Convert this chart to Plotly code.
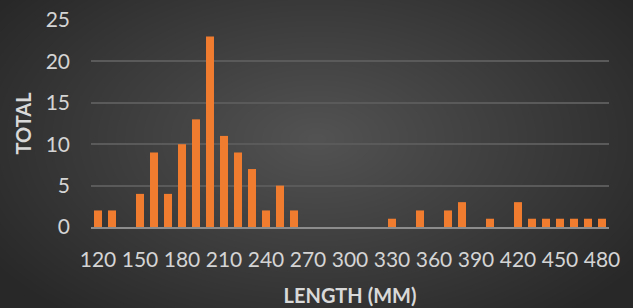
import base64, struct, zlib
import numpy as np
import plotly.graph_objects as go

# ---- data ----
lengths = list(range(120, 490, 10))
totals = [2, 2, 0, 4, 9, 4, 10, 13, 23, 11, 9, 7, 2, 5, 2,
          0, 0, 0, 0, 0, 0, 1, 0, 2, 0, 2, 3, 0, 1, 0, 3,
          1, 1, 1, 1, 1, 1]
tick_vals = list(range(120, 490, 30))
tick_text = [str(v) for v in tick_vals]

W, H = 633, 308
ML, MR, MT, MB = 91, 24, 20, 81

# ---- radial gradient background as PNG data URI ----
def gradient_png(w, h):
    yy, xx = np.mgrid[0:h, 0:w].astype(float)
    cx, cy = w * 0.5, h * 0.45
    d = np.sqrt(((xx - cx) / (w * 0.62)) ** 2 + ((yy - cy) / (h * 0.75)) ** 2)
    d = np.clip(d, 0, 1)
    c0, c1 = 0x53, 0x28
    v = (c0 + (c1 - c0) * d).astype(np.uint8)
    img = np.stack([v, v, v], axis=-1)
    raw = b"".join(b"\x00" + img[r].tobytes() for r in range(h))
    def chunk(t, data):
        c = struct.pack(">I", len(data)) + t + data
        return c + struct.pack(">I", zlib.crc32(t + data) & 0xffffffff)
    png = b"\x89PNG\r\n\x1a\n" + chunk(b"IHDR", struct.pack(">IIBBBBB", w, h, 8, 2, 0, 0, 0)) \
        + chunk(b"IDAT", zlib.compress(raw, 9)) + chunk(b"IEND", b"")
    return "data:image/png;base64," + base64.b64encode(png).decode()

pw, ph = W - ML - MR, H - MT - MB

fig = go.Figure(go.Bar(
    x=lengths, y=totals, width=5.7,
    marker=dict(color="#f07c30", line=dict(width=0)),
))

fig.add_layout_image(dict(
    source=gradient_png(W, H), xref="paper", yref="paper",
    x=-ML / pw, y=1 + MT / ph, sizex=W / pw, sizey=H / ph,
    xanchor="left", yanchor="top", sizing="stretch", layer="below",
))

font_color = "#d9d9d9"
fig.update_layout(
    width=W, height=H,
    margin=dict(l=ML, r=MR, t=MT, b=MB),
    paper_bgcolor="#3a3a3a", plot_bgcolor="rgba(0,0,0,0)",
    font=dict(family="Lato", color=font_color, size=21),
    showlegend=False,
    xaxis=dict(
        range=[115, 485], tickvals=tick_vals, ticktext=tick_text,
        showgrid=False, zeroline=False, showline=True,
        linecolor="#8c8c8c", linewidth=2, ticks="",
        ticklabelstandoff=13, automargin=False,
        tickfont=dict(size=21, color="#d4d4d4"),
        title=dict(text="<b>LENGTH (MM)</b>", font=dict(size=20, color=font_color), standoff=19),
    ),
    yaxis=dict(
        range=[0, 25], dtick=5, showgrid=True, gridcolor="#5a5a5a", gridwidth=1.5,
        zeroline=False, showline=False, ticks="",
        ticklabelstandoff=20, automargin=False,
        tickfont=dict(size=21, color="#d4d4d4"),
        title=dict(text="<b>TOTAL</b>", font=dict(size=20, color=font_color), standoff=8),
    ),
)

fig.write_html(
    "out.html",
    config={"displayModeBar": False},
    post_script="document.body.style.margin='0';document.body.style.overflow='hidden';",
)
